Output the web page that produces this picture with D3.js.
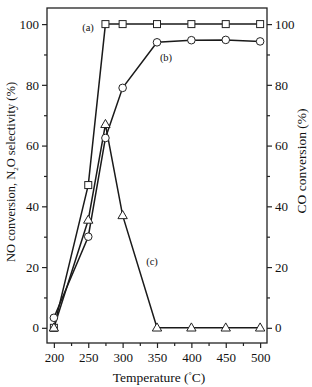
<!DOCTYPE html>
<html>
<head>
<meta charset="utf-8">
<style>
  body { margin: 0; background: #fff; }
  text { font-family: "Liberation Serif", "DejaVu Serif", serif; fill: #111; }
  .axis path, .axis line { stroke: #222; stroke-width: 1.2; fill: none; }
</style>
<script src="https://cdn.jsdelivr.net/npm/d3@7"></script>
</head>
<body>
<script>
var temps = [200, 250, 275, 300, 350, 400, 450, 500];
var seriesA = [0, 47, 100, 100, 100, 100, 100, 100];      // squares
var seriesB = [3.3, 30, 62.5, 79, 94, 94.7, 94.8, 94.3];  // circles
var seriesC = [0, 35.5, 67, 37, 0, 0, 0, 0];              // triangles
var xTicks = [200, 250, 300, 350, 400, 450, 500];
var yTicks = [0, 20, 40, 60, 80, 100];

var W = 312, H = 387;
var margin = {top: 8, right: 45, bottom: 44, left: 47};
var width = W - margin.left - margin.right,
    height = H - margin.top - margin.bottom;

var x = d3.scaleLinear().domain([190, 510]).range([0, width]);
var y = d3.scaleLinear().domain([-5, 105.3]).range([height, 0]);

var svg = d3.select("body").append("svg")
    .attr("width", W).attr("height", H);
var g = svg.append("g").attr("transform", `translate(${margin.left},${margin.top})`);

// frame
g.append("rect").attr("width", width).attr("height", height)
  .attr("fill", "none").attr("stroke", "#222").attr("stroke-width", 1.3);

// x axis (major + minor)
var xMinor = d3.range(225, 500, 50);
g.append("g").attr("class", "axis").attr("transform", `translate(0,${height})`)
  .call(d3.axisBottom(x).tickValues(xTicks).tickSize(5).tickPadding(5))
  .call(a => a.select(".domain").remove())
  .call(a => a.selectAll("text").style("font-size", "13px"));
g.append("g").attr("class", "axis").attr("transform", `translate(0,${height})`)
  .call(d3.axisBottom(x).tickValues(xMinor).tickSize(3).tickFormat(""))
  .call(a => a.select(".domain").remove());

// left y axis
var yMinor = d3.range(10, 101, 20);
g.append("g").attr("class", "axis")
  .call(d3.axisLeft(y).tickValues(yTicks).tickSize(5).tickPadding(3))
  .call(a => a.select(".domain").remove())
  .call(a => a.selectAll("text").style("font-size", "13px"));
g.append("g").attr("class", "axis")
  .call(d3.axisLeft(y).tickValues(yMinor).tickSize(3).tickFormat(""))
  .call(a => a.select(".domain").remove());

// right y axis
g.append("g").attr("class", "axis").attr("transform", `translate(${width},0)`)
  .call(d3.axisRight(y).tickValues(yTicks).tickSize(5).tickPadding(3))
  .call(a => a.select(".domain").remove())
  .call(a => a.selectAll("text").style("font-size", "13px"));
g.append("g").attr("class", "axis").attr("transform", `translate(${width},0)`)
  .call(d3.axisRight(y).tickValues(yMinor).tickSize(3).tickFormat(""))
  .call(a => a.select(".domain").remove());

// lines
var line = d3.line().x((d, i) => x(temps[i])).y(d => y(d));
[seriesC, seriesB, seriesA].forEach(function(s) {
  g.append("path").datum(s).attr("d", line)
    .attr("fill", "none").attr("stroke", "#1a1a1a").attr("stroke-width", 1.5);
});

// markers
g.selectAll(".sq").data(seriesA).enter().append("rect")
  .attr("x", (d, i) => x(temps[i]) - 3.5).attr("y", d => y(d) - 3.5)
  .attr("width", 7).attr("height", 7)
  .attr("fill", "#fff").attr("stroke", "#222").attr("stroke-width", 1);
g.selectAll(".ci").data(seriesB).enter().append("circle")
  .attr("cx", (d, i) => x(temps[i])).attr("cy", d => y(d)).attr("r", 3.8)
  .attr("fill", "#fff").attr("stroke", "#222").attr("stroke-width", 1);
var tri = d3.symbol().type(d3.symbolTriangle).size(38);
g.selectAll(".tr").data(seriesC).enter().append("path")
  .attr("d", tri)
  .attr("transform", (d, i) => `translate(${x(temps[i])},${y(d) + 0.5})`)
  .attr("fill", "#fff").attr("stroke", "#222").attr("stroke-width", 1);

// series labels
svg.append("text").attr("x", 88).attr("y", 31).attr("text-anchor", "middle")
  .style("font-size", "10.5px").text("(a)");
svg.append("text").attr("x", 166).attr("y", 61).attr("text-anchor", "middle")
  .style("font-size", "10.5px").text("(b)");
svg.append("text").attr("x", 152).attr("y", 265).attr("text-anchor", "middle")
  .style("font-size", "10.5px").text("(c)");

// axis titles
var lt = svg.append("text")
  .attr("transform", "translate(15,172) rotate(-90)")
  .attr("text-anchor", "middle").style("font-size", "12.5px");
lt.append("tspan").text("NO conversion, N");
lt.append("tspan").attr("dy", 3).style("font-size", "7px").text("2");
lt.append("tspan").attr("dy", -3).text("O selectivity (%)");

svg.append("text")
  .attr("transform", "translate(306,161) rotate(-90)")
  .attr("text-anchor", "middle").style("font-size", "13.5px")
  .text("CO conversion (%)");

var bt = svg.append("text").attr("x", 159).attr("y", 382)
  .attr("text-anchor", "middle").style("font-size", "13.5px");
bt.append("tspan").text("Temperature (");
bt.append("tspan").attr("dy", -4).style("font-size", "8px").text("°");
bt.append("tspan").attr("dy", 4).text("C)");
</script>
</body>
</html>
